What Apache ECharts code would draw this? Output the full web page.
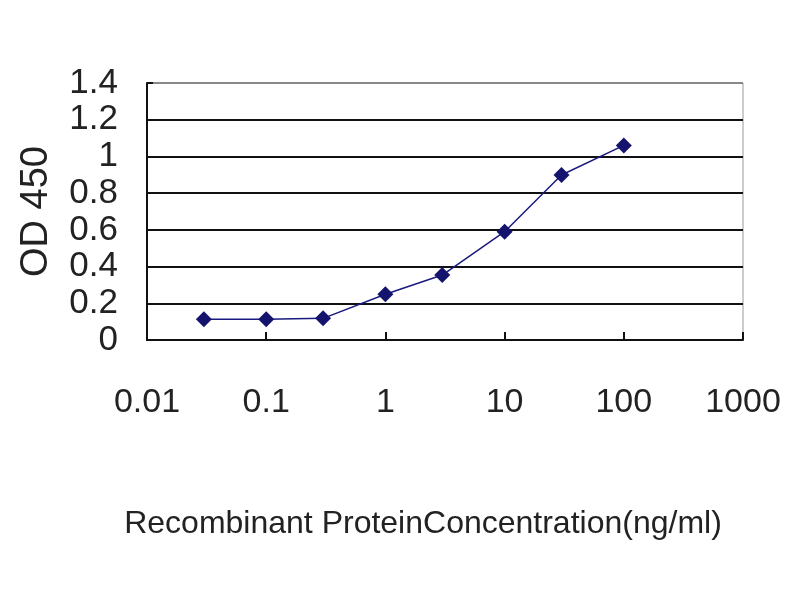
<!DOCTYPE html>
<html>
<head>
<meta charset="utf-8">
<script src="https://cdn.jsdelivr.net/npm/echarts@6/dist/echarts.min.js"></script>
<style>html,body{margin:0;padding:0;background:#fff}#c{width:800px;height:600px}</style>
</head>
<body>
<div id="c"></div>
<script>
const concentrations = [0.03, 0.1, 0.3, 1, 3, 10, 30, 100];
const od450 = [0.113, 0.113, 0.118, 0.249, 0.354, 0.59, 0.899, 1.06];
const xTickLabels = ['0.01', '0.1', '1', '10', '100', '1000'];
const yTickLabels = ['0', '0.2', '0.4', '0.6', '0.8', '1', '1.2', '1.4'];
const xAxisTitle = 'Recombinant ProteinConcentration(ng/ml)';
const yAxisTitle = 'OD 450';

const chart = echarts.init(document.getElementById('c'), null, {renderer: 'canvas'});
chart.setOption({
  backgroundColor: '#ffffff',
  animation: false,
  grid: {left: 147, right: 57, top: 83, bottom: 260, show: true, borderColor: '#999', borderWidth: 1},
  xAxis: {
    type: 'log', logBase: 10, min: 0.01, max: 1000,
    name: xAxisTitle, nameLocation: 'middle', nameGap: 168,
    nameTextStyle: {fontFamily: 'Liberation Sans, Arial', fontSize: 32, color: '#222', padding: [0, 44, 0, 0]},
    axisLine: {show: true, lineStyle: {color: '#111', width: 2}},
    axisTick: {show: true, inside: true, length: 8, lineStyle: {color: '#111', width: 2}},
    minorTick: {show: false},
    splitLine: {show: false},
    axisLabel: {
      margin: 46, fontFamily: 'Liberation Sans, Arial', fontSize: 34, color: '#222',
      formatter: (v, i) => xTickLabels[i]
    }
  },
  yAxis: {
    type: 'value', min: 0, max: 1.4, interval: 0.2,
    name: yAxisTitle, nameLocation: 'middle', nameGap: 91, nameRotate: 90,
    nameTextStyle: {fontFamily: 'Liberation Sans, Arial', fontSize: 38, color: '#222'},
    axisLine: {show: true, lineStyle: {color: '#111', width: 2}},
    axisTick: {show: true, inside: true, length: 6, lineStyle: {color: '#111', width: 2}},
    splitLine: {show: true, lineStyle: {color: ['#111','#111','#111','#111','#111','#111','#111','#888'], width: 2}},
    axisLabel: {
      margin: 29, fontFamily: 'Liberation Sans, Arial', fontSize: 35, color: '#222',
      formatter: (v, i) => yTickLabels[i]
    }
  },
  series: [{
    type: 'line',
    data: concentrations.map((c, i) => [c, od450[i]]),
    symbol: 'diamond', symbolSize: 16,
    lineStyle: {color: '#1a1a80', width: 1.5},
    itemStyle: {color: '#14146e'}
  }]
});
</script>
</body>
</html>
